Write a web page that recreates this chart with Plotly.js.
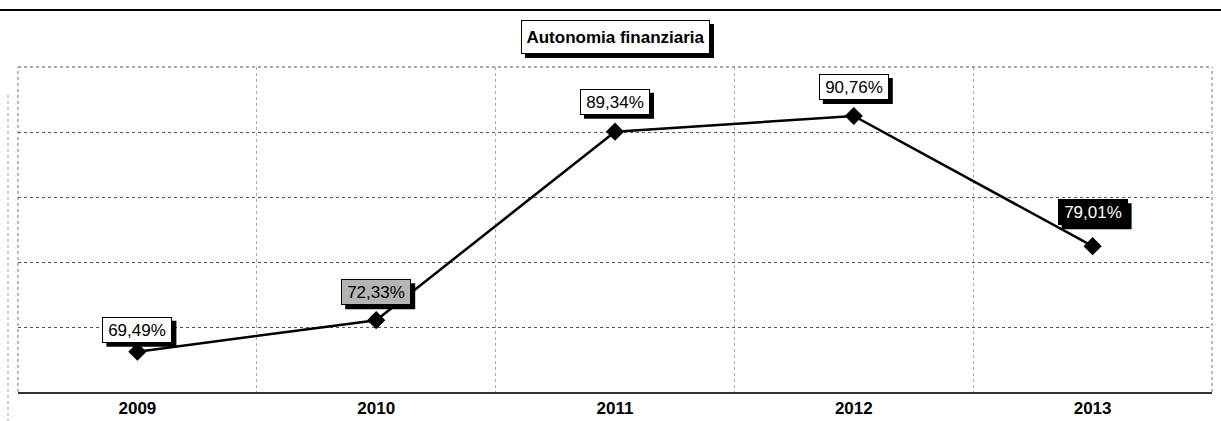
<!DOCTYPE html>
<html>
<head>
<meta charset="utf-8">
<script src="https://cdn.plot.ly/plotly-3.0.1.min.js"></script>
<style>
  html, body { margin: 0; padding: 0; background: #ffffff; }
  #chart { width: 1221px; height: 421px; }
</style>
</head>
<body>
<div id="chart"></div>
<script>
// ---- data ----
const chartTitle = "Autonomia finanziaria";
const years = ["2009", "2010", "2011", "2012", "2013"];
const values = [69.49, 72.33, 89.34, 90.76, 79.01];

// ---- style ----
const W = 1221, H = 421;
const M = { l: 18, r: 9, t: 67, b: 29 };
const PW = W - M.l - M.r, PH = H - M.t - M.b;
const yRange = [65.85, 95.18];
const labelShift = [22, 28, 30, 29, 34];
const labelBg = ["#ffffff", "#b4b4b4", "#ffffff", "#ffffff", "#000000"];
const labelFg = ["#000000", "#000000", "#000000", "#000000", "#ffffff"];
const FONT = "Arial, 'Liberation Sans', sans-serif";

const px2x = p => (p - M.l) / PW;
const px2y = p => (H - M.b - p) / PH;

const fmt = v => v.toFixed(2).replace(".", ",") + "%";

const trace = {
  type: "scatter",
  mode: "lines+markers",
  x: years,
  y: values,
  line: { color: "#000000", width: 2.5 },
  marker: { symbol: "diamond", size: 14, color: "#000000" },
  hoverinfo: "x+y"
};

const annotations = [];
const shapes = [];

// data labels with drop shadow
values.forEach((v, i) => {
  const s = labelShift[i];
  shapes.push({
    type: "rect", layer: "above",
    xref: "x", xsizemode: "pixel", xanchor: i, x0: -31, x1: 39,
    yref: "y", ysizemode: "pixel", yanchor: v, y0: s - 17, y1: s + 9,
    fillcolor: "#000000", line: { width: 0 }
  });
  annotations.push({
    xref: "x", yref: "y", x: i, y: v, yshift: s,
    text: fmt(v), showarrow: false,
    width: 66, height: 22, borderpad: 1,
    bgcolor: labelBg[i], bordercolor: "#000000", borderwidth: 1,
    font: { family: FONT, size: 17, color: labelFg[i] },
    xanchor: "center", yanchor: "middle"
  });
});

// title box with shadow
shapes.push({
  type: "rect", layer: "above", xref: "paper", yref: "paper",
  x0: px2x(525), x1: px2x(714), y0: px2y(58), y1: px2y(24),
  fillcolor: "#000000", line: { width: 0 }
});
annotations.push({
  xref: "paper", yref: "paper", x: px2x(615.5), y: px2y(37),
  text: "<b>" + chartTitle + "</b>", showarrow: false,
  width: 185, height: 30, borderpad: 1,
  bgcolor: "#ffffff", bordercolor: "#000000", borderwidth: 1,
  font: { family: FONT, size: 17, color: "#000000" },
  xanchor: "center", yanchor: "middle"
});

// plot frame (dotted) and scan border lines
shapes.push({ type: "line", xref: "paper", yref: "paper", x0: 0, x1: 1, y0: 1, y1: 1,
  line: { color: "#555555", width: 1, dash: "dot" } });
shapes.push({ type: "line", xref: "paper", yref: "paper", x0: 0, x1: 0, y0: 0, y1: 1,
  line: { color: "#777777", width: 1, dash: "dot" } });
shapes.push({ type: "line", xref: "paper", yref: "paper", x0: 1, x1: 1, y0: 0, y1: 1,
  line: { color: "#777777", width: 1, dash: "dot" } });
shapes.push({ type: "line", xref: "paper", yref: "paper",
  x0: px2x(0), x1: px2x(W), y0: px2y(10), y1: px2y(10),
  line: { color: "#000000", width: 2 } });
shapes.push({ type: "line", xref: "paper", yref: "paper",
  x0: px2x(8), x1: px2x(8), y0: px2y(95), y1: px2y(421),
  line: { color: "#999999", width: 1, dash: "dot" } });

const layout = {
  width: W, height: H,
  margin: M,
  paper_bgcolor: "#ffffff",
  plot_bgcolor: "#ffffff",
  showlegend: false,
  font: { family: FONT, color: "#000000" },
  xaxis: {
    type: "category",
    range: [-0.5, years.length - 0.5],
    tickson: "boundaries",
    showgrid: true, gridcolor: "#aaaaaa", griddash: "dot", gridwidth: 1,
    ticks: "",
    showline: true, linecolor: "#333333", linewidth: 2,
    tickfont: { family: FONT, size: 17, color: "#000000", weight: "bold" },
    fixedrange: true, zeroline: false
  },
  yaxis: {
    range: yRange,
    tick0: yRange[0],
    dtick: (yRange[1] - yRange[0]) / 5,
    showgrid: true, gridcolor: "#555555", griddash: "dot", gridwidth: 1,
    showticklabels: false, ticks: "",
    showline: false, zeroline: false, fixedrange: true
  },
  shapes: shapes,
  annotations: annotations
};

Plotly.newPlot("chart", [trace], layout, { displayModeBar: false, staticPlot: true });
</script>
</body>
</html>
